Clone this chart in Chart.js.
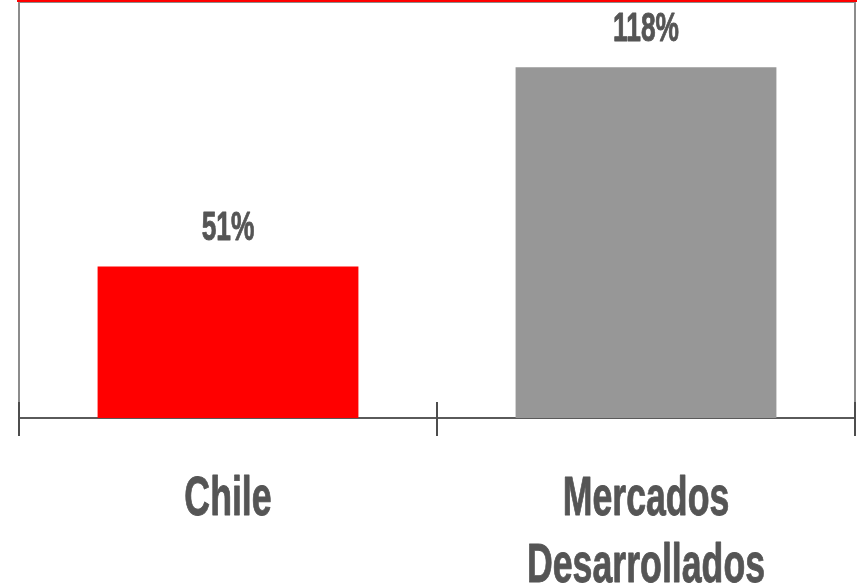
<!DOCTYPE html>
<html>
<head>
<meta charset="utf-8">
<script src="https://cdn.jsdelivr.net/npm/chart.js@4/dist/chart.umd.min.js"></script>
<style>
  html, body { margin: 0; padding: 0; background: #ffffff; }
  #wrap { width: 857px; height: 585px; position: relative; }
</style>
</head>
<body>
<div id="wrap"><canvas id="c"></canvas></div>
<script>
// Categories (each may span several lines) and their values in percent
const categories = [["Chile"], ["Mercados", "Desarrollados"]];
const values = [51, 118];
const valueLabels = ["51%", "118%"];
const barColors = ["#ff0000", "#979797"];

const TEXT_COLOR = "#555555";
const FONT_FAMILY = "'Liberation Sans Narrow', 'Arial Narrow', 'Liberation Sans', sans-serif";
const STRETCH_X = 0.85; // condensed,
const STRETCH_Y = 1.3;  // tall lettering

function tallText(ctx, text, x, y, size) {
  ctx.save();
  ctx.font = "bold " + size + "px " + FONT_FAMILY;
  ctx.fillStyle = TEXT_COLOR;
  ctx.strokeStyle = TEXT_COLOR;
  ctx.lineWidth = 0.7;
  ctx.lineJoin = "round";
  ctx.textAlign = "center";
  ctx.textBaseline = "alphabetic";
  ctx.translate(x, y);
  ctx.scale(STRETCH_X, STRETCH_Y);
  ctx.fillText(text, 0, 0);
  ctx.strokeText(text, 0, 0);
  ctx.restore();
}

// Frame, tick marks, value labels and category labels
const decorations = {
  id: "decorations",
  beforeDatasetsDraw(chart) {
    const { ctx, chartArea: a } = chart;
    ctx.save();
    // side borders and top rule
    ctx.strokeStyle = "#8c8c8c";
    ctx.lineWidth = 2;
    ctx.beginPath();
    ctx.moveTo(a.left, a.top); ctx.lineTo(a.left, a.bottom);
    ctx.moveTo(a.right, a.top); ctx.lineTo(a.right, a.bottom);
    ctx.stroke();
    ctx.lineWidth = 1;
    ctx.beginPath();
    ctx.moveTo(a.left, a.top + 0.5); ctx.lineTo(a.right, a.top + 0.5);
    ctx.stroke();
    ctx.fillStyle = "#ff0000";
    ctx.fillRect(a.left - 2, 0, chart.width - a.left + 2, 2);
    ctx.restore();
  },
  afterDraw(chart) {
    const { ctx, chartArea: a } = chart;
    const x = chart.scales.x;
    const n = categories.length;
    const step = (a.right - a.left) / n;
    // tick marks at category boundaries
    ctx.save();
    ctx.strokeStyle = "#4d4d4d";
    ctx.lineWidth = 2;
    ctx.beginPath();
    for (let i = 0; i <= n; i++) {
      const px = Math.round(x.getPixelForTick(0) - step / 2 + i * step);
      ctx.moveTo(px, a.bottom - 16);
      ctx.lineTo(px, a.bottom + 18);
    }
    ctx.stroke();
    ctx.restore();

    // value labels above the bars
    const meta = chart.getDatasetMeta(0);
    meta.data.forEach((bar, i) => {
      tallText(ctx, valueLabels[i], bar.x, bar.y - 26, 31);
    });

    // category labels below the axis
    categories.forEach((lines, i) => {
      const cx = x.getPixelForTick(i);
      lines.forEach((line, j) => {
        tallText(ctx, line, cx, a.bottom + 97 + j * 67, 42);
      });
    });
  }
};

new Chart(document.getElementById("c"), {
  type: "bar",
  data: {
    labels: categories.map(l => l.join(" ")),
    datasets: [{
      data: values,
      backgroundColor: barColors,
      borderWidth: 0,
      barPercentage: 0.624,
      categoryPercentage: 1
    }]
  },
  options: {
    responsive: true,
    maintainAspectRatio: false,
    animation: false,
    devicePixelRatio: 1,
    layout: { padding: { left: 19, right: 2, top: 2, bottom: 0 } },
    plugins: { legend: { display: false }, tooltip: { enabled: false } },
    scales: {
      x: {
        offset: true,
        ticks: { display: false },
        grid: { display: false },
        border: { display: true, color: "#5a5a5a", width: 2 },
        afterFit(scale) { scale.height = 167; }
      },
      y: {
        display: false,
        min: 0,
        max: 140
      }
    }
  },
  plugins: [decorations]
});
</script>
</body>
</html>
